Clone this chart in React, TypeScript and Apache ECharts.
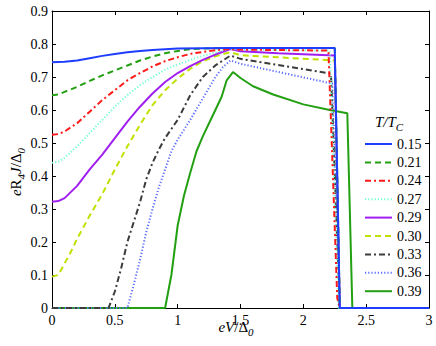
import { useEffect, useRef } from "react";
import * as echarts from "echarts";

// ---- Data ----
const temperatures = ["0.15", "0.21", "0.24", "0.27", "0.29", "0.30", "0.33", "0.36", "0.39"];

const curve015 = [
  [0, 0.745], [0.1, 0.746], [0.2, 0.75], [0.3, 0.757], [0.4, 0.764], [0.5, 0.77], [0.6, 0.775],
  [0.7, 0.779], [0.8, 0.782], [0.9, 0.784], [1.0, 0.786], [1.2, 0.787], [1.4, 0.788],
  [2.25, 0.788], [2.29, 0], [3, 0],
];
const curve021 = [
  [0, 0.645], [0.05, 0.647], [0.1, 0.655], [0.2, 0.67], [0.3, 0.688], [0.4, 0.705], [0.5, 0.72],
  [0.6, 0.735], [0.7, 0.75], [0.8, 0.762], [0.9, 0.772], [1.0, 0.779], [1.1, 0.784], [1.2, 0.786],
  [1.4, 0.788], [2.25, 0.788], [2.29, 0], [3, 0],
];
const curve024 = [
  [0, 0.525], [0.05, 0.527], [0.1, 0.535], [0.2, 0.56], [0.3, 0.595], [0.4, 0.63], [0.5, 0.66],
  [0.6, 0.69], [0.7, 0.712], [0.8, 0.732], [0.9, 0.748], [1.0, 0.76], [1.1, 0.77], [1.2, 0.776],
  [1.3, 0.781], [1.4, 0.785], [1.5, 0.783], [2.2, 0.78], [2.27, 0.03], [2.29, 0], [3, 0],
];
const curve027 = [
  [0, 0.44], [0.05, 0.443], [0.1, 0.455], [0.2, 0.49], [0.3, 0.53], [0.4, 0.57], [0.5, 0.61],
  [0.6, 0.645], [0.7, 0.675], [0.8, 0.7], [0.9, 0.722], [1.0, 0.738], [1.1, 0.752], [1.2, 0.764],
  [1.3, 0.774], [1.4, 0.785], [1.5, 0.783], [2.21, 0.78], [2.28, 0], [3, 0],
];
const curve029 = [
  [0, 0.322], [0.05, 0.324], [0.1, 0.333], [0.2, 0.37], [0.3, 0.42], [0.4, 0.465], [0.5, 0.515],
  [0.6, 0.565], [0.7, 0.61], [0.8, 0.65], [0.9, 0.685], [1.0, 0.712], [1.1, 0.733], [1.2, 0.752],
  [1.3, 0.768], [1.42, 0.785], [1.5, 0.778], [1.8, 0.772], [2.25, 0.765], [2.29, 0], [3, 0],
];
const curve030 = [
  [0, 0.095], [0.05, 0.1], [0.1, 0.135], [0.15, 0.17], [0.2, 0.21], [0.25, 0.245], [0.3, 0.28],
  [0.4, 0.345], [0.5, 0.42], [0.6, 0.49], [0.7, 0.555], [0.8, 0.615], [0.9, 0.66], [1.0, 0.695],
  [1.1, 0.725], [1.2, 0.748], [1.3, 0.763], [1.42, 0.775], [1.5, 0.766], [2.25, 0.75], [2.29, 0], [3, 0],
];
const curve033 = [
  [0, 0], [0.45, 0], [0.5, 0.05], [0.55, 0.12], [0.6, 0.2], [0.65, 0.26], [0.7, 0.32], [0.75, 0.39],
  [0.8, 0.44], [0.85, 0.48], [0.9, 0.515], [1.0, 0.57], [1.1, 0.645], [1.2, 0.7], [1.3, 0.735],
  [1.42, 0.765], [1.5, 0.755], [2.22, 0.71], [2.29, 0], [3, 0],
];
const curve036 = [
  [0, 0], [0.6, 0], [0.65, 0.07], [0.7, 0.145], [0.75, 0.23], [0.8, 0.3], [0.85, 0.365], [0.9, 0.42],
  [0.95, 0.475], [1.0, 0.51], [1.1, 0.57], [1.2, 0.635], [1.3, 0.7], [1.36, 0.73], [1.42, 0.75],
  [1.5, 0.74], [2.23, 0.68], [2.29, 0], [3, 0],
];
const curve039 = [
  [0, 0], [0.9, 0], [0.95, 0.1], [1.0, 0.25], [1.05, 0.34], [1.1, 0.41], [1.15, 0.475], [1.2, 0.52],
  [1.3, 0.6], [1.35, 0.64], [1.39, 0.69], [1.44, 0.715], [1.5, 0.697], [1.6, 0.672], [1.76, 0.647],
  [2.0, 0.617], [2.21, 0.6], [2.35, 0.59], [2.39, 0], [3, 0],
];

const curves = [curve015, curve021, curve024, curve027, curve029, curve030, curve033, curve036, curve039];

const xMin = 0, xMax = 3, xStep = 0.5;
const yMin = 0, yMax = 0.9, yStep = 0.1;

// ---- Styles ----
const lineColors = ["#1f3dff", "#22a012", "#ff1a1a", "#70ffd2", "#a01ff0", "#c2e000", "#3c3c3c", "#5a6cff", "#22a012"];
const lineDashes: any[] = ["solid", [6, 4], [6, 3, 2, 3], [1.2, 2], "solid", [6, 4], [6, 3, 2, 3], [1.2, 2], "solid"];

const FONT = '"Liberation Serif", "Times New Roman", serif';

export default function App() {
  const ref = useRef<HTMLDivElement>(null);

  useEffect(() => {
    if (!ref.current) return;
    const chart = echarts.init(ref.current, undefined, { renderer: "svg" });

    const axisCommon = {
      type: "value" as const,
      axisLine: { show: true, onZero: false, lineStyle: { color: "#000", width: 1 } },
      axisTick: { show: true, inside: true, length: 4, lineStyle: { color: "#000" } },
      splitLine: { show: false },
    };

    const richStyles = {
      i: { fontSize: 15, fontStyle: "italic", fontFamily: FONT, lineHeight: 20, fill: "#000" },
      n: { fontSize: 15, fontFamily: FONT, lineHeight: 20, fill: "#000" },
      s: { fontSize: 11, fontStyle: "italic", fontFamily: FONT, lineHeight: 10, verticalAlign: "bottom", fill: "#000" },
    };

    const option: any = {
      animation: false,
      backgroundColor: "#fff",
      grid: { left: 52, right: 7, top: 11, bottom: 38 },
      xAxis: [
        {
          ...axisCommon, position: "bottom", min: xMin, max: xMax, interval: xStep,
          axisLabel: { show: true, color: "#000", fontSize: 14, fontFamily: FONT, margin: 5 },
        },
        {
          ...axisCommon, position: "top", min: xMin, max: xMax, interval: xStep,
          axisLabel: { show: false },
        },
      ],
      yAxis: [
        {
          ...axisCommon, position: "left", min: yMin, max: yMax, interval: yStep,
          axisLabel: { show: true, color: "#000", fontSize: 14, fontFamily: FONT, margin: 4 },
        },
        {
          ...axisCommon, position: "right", min: yMin, max: yMax, interval: yStep,
          axisLabel: { show: false },
        },
      ],
      legend: {
        orient: "vertical",
        left: 364,
        top: 137,
        itemWidth: 27,
        itemHeight: 14,
        itemGap: 4.4,
        padding: 0,
        data: temperatures,
        itemStyle: { opacity: 0, borderWidth: 0 },
        textStyle: { color: "#000", fontSize: 14, fontFamily: FONT },
      },
      series: curves.map((c, i) => ({
        name: temperatures[i],
        type: "line",
        data: c,
        xAxisIndex: 0,
        yAxisIndex: 0,
        symbol: "none",
        smooth: false,
        clip: true,
        z: 10 - i,
        itemStyle: { color: lineColors[i] },
        lineStyle: { color: lineColors[i], width: 2, type: lineDashes[i] },
      })),
      graphic: [
        {
          type: "text",
          x: 16,
          y: 172,
          rotation: Math.PI / 2,
          style: {
            text: "{i|e}{n|R}{s|4}{i|J}{n|/Δ}{s|0}",
            textAlign: "center",
            textVerticalAlign: "middle",
            fill: "#000",
            rich: richStyles,
          },
        },
        {
          type: "text",
          x: 236,
          y: 327,
          style: {
            text: "{i|eV}{n|/Δ}{s|0}",
            textAlign: "center",
            textVerticalAlign: "middle",
            fill: "#000",
            rich: richStyles,
          },
        },
        {
          type: "text",
          x: 375,
          y: 122,
          style: {
            text: "{i|T/T}{s|C}",
            textAlign: "left",
            textVerticalAlign: "middle",
            fill: "#000",
            rich: richStyles,
          },
        },
      ],
    };

    chart.setOption(option);
    return () => chart.dispose();
  }, []);

  return (
    <div
      ref={ref}
      style={{ position: "fixed", left: 0, top: 0, width: 436, height: 346, background: "#fff" }}
    />
  );
}
